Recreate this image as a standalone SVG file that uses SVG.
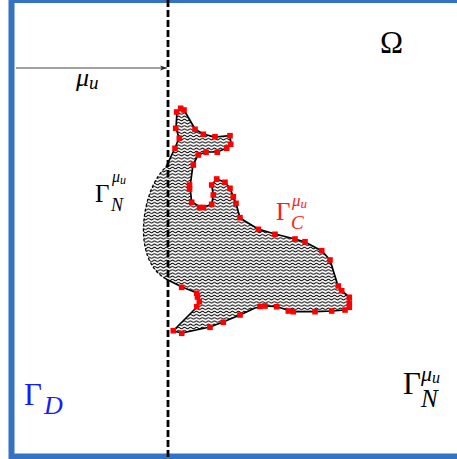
<svg xmlns="http://www.w3.org/2000/svg" width="457" height="459" viewBox="0 0 457 459">
<style>
.lbl{font-family:"Liberation Serif","DejaVu Serif",serif;fill:#000}
.it{font-style:italic}
.red{fill:#ff1a1a}
.blue{fill:#1a1aff}
.mk{fill:#ff0000}
</style>
<defs>
<pattern id="hatch" patternUnits="userSpaceOnUse" width="6" height="3.2">
<path d="M-3,1.6 q1.5,-1.4 3,0 t3,0 t3,0 t3,0" fill="none" stroke="#000" stroke-width="0.85"/>
</pattern>
<marker id="arr" markerWidth="8" markerHeight="6" refX="7" refY="3" orient="auto" markerUnits="userSpaceOnUse">
<path d="M0,0.5 L7,3 L0,5.5 L1.8,3 Z" fill="#222"/>
</marker>
<rect id="m" x="-2.8" y="-2.8" width="5.6" height="5.6" class="mk"/>
</defs>
<rect width="457" height="459" fill="#fff"/>
<g id="frame">
<rect x="11.5" y="0" width="460" height="456.5" fill="none" stroke="#3473c4" stroke-width="6"/>
</g>
<g id="interface">
<line x1="168" y1="0" x2="168" y2="459" stroke="#000" stroke-width="2.8" stroke-dasharray="7 3"/>
</g>
<g id="shape">
<path d="M166,167 L175,148 L179,138 L176,128 L177,112 L181,108 L184,110 L195,129 L203,134 L215,137 L230,135.7 L231,144 L227,148 L217,152 L206,152 L198,155 L193,165 L190,187 L191.7,202 L201.7,207.7 L211.7,204.3 L213.3,195 L211.7,185 L216.7,179 L225,182.3 L230,188.3 L233.3,196.7 L236,203.3 L240,218 L258,229 L275,234 L295,239 L305,242 L322,251 L330,260 L338,286 L342,291 L349,297 L349.5,307 L345,310 L332,311 L315,311.7 L293,311.7 L277,306.7 L265,306 L255,308 L240,315 L223,322 L210,327 L182,333 L173,331 L197,307 L199.5,302 L197,293 L182,287 L166,279 C150,270 143,250 143.5,228 C144,205 152,180 166,167 Z" fill="url(#hatch)" stroke="none"/>
<path d="M166,167 L175,148 L179,138 L176,128 L177,112 L181,108 L184,110 L195,129 L203,134 L215,137 L230,135.7 L231,144 L227,148 L217,152 L206,152 L198,155 L193,165 L190,187 L191.7,202 L201.7,207.7 L211.7,204.3 L213.3,195 L211.7,185 L216.7,179 L225,182.3 L230,188.3 L233.3,196.7 L236,203.3 L240,218 L258,229 L275,234 L295,239 L305,242 L322,251 L330,260 L338,286 L342,291 L349,297 L349.5,307 L345,310 L332,311 L315,311.7 L293,311.7 L277,306.7 L265,306 L255,308 L240,315 L223,322 L210,327 L182,333 L173,331 L197,307 L199.5,302 L197,293 L182,287 L166,279" fill="none" stroke="#000" stroke-width="1.7" stroke-linejoin="round"/>
<path d="M166,279 C150,270 143,250 143.5,228 C144,205 152,180 166,167" fill="none" stroke="#000" stroke-width="1.3" stroke-dasharray="3 2"/>
</g>
<g id="markers">
<use href="#m" x="176.7" y="112"/><use href="#m" x="180.7" y="108.3"/><use href="#m" x="184" y="110"/>
<use href="#m" x="175.7" y="128.3"/><use href="#m" x="179.3" y="138.3"/><use href="#m" x="175" y="148.3"/>
<use href="#m" x="195" y="129.3"/><use href="#m" x="203.3" y="134.3"/><use href="#m" x="215" y="136.7"/>
<use href="#m" x="230" y="135.7"/><use href="#m" x="230.7" y="144.3"/><use href="#m" x="226.7" y="148.3"/>
<use href="#m" x="217.3" y="152.3"/><use href="#m" x="206" y="152.3"/><use href="#m" x="198.3" y="155"/>
<use href="#m" x="193.3" y="165"/><use href="#m" x="189.5" y="185"/><use href="#m" x="189.5" y="189"/>
<use href="#m" x="191.7" y="202.3"/><use href="#m" x="199.5" y="207.5"/><use href="#m" x="203.5" y="207.5"/>
<use href="#m" x="211.7" y="204.3"/><use href="#m" x="213.3" y="195"/><use href="#m" x="211.7" y="185"/>
<use href="#m" x="216.7" y="179"/><use href="#m" x="225" y="182.3"/><use href="#m" x="230" y="188.3"/>
<use href="#m" x="233.3" y="196.7"/><use href="#m" x="236" y="203.3"/><use href="#m" x="240" y="217.7"/>
<use href="#m" x="258.3" y="229.3"/><use href="#m" x="275" y="234.3"/><use href="#m" x="295" y="239"/>
<use href="#m" x="305" y="241.7"/><use href="#m" x="321.7" y="250.7"/><use href="#m" x="330" y="260"/>
<use href="#m" x="338.3" y="286"/><use href="#m" x="341.7" y="290.7"/><use href="#m" x="349.3" y="297.3"/>
<use href="#m" x="349.3" y="303"/><use href="#m" x="349.3" y="307.3"/><use href="#m" x="345" y="310"/>
<use href="#m" x="331.7" y="311"/><use href="#m" x="315" y="311.7"/><use href="#m" x="293.3" y="311.7"/>
<use href="#m" x="288.3" y="311"/><use href="#m" x="276.7" y="306.7"/><use href="#m" x="265" y="306"/>
<use href="#m" x="260" y="306.5"/><use href="#m" x="240" y="315"/><use href="#m" x="223.3" y="322.3"/>
<use href="#m" x="210" y="327.3"/><use href="#m" x="181.7" y="333.3"/><use href="#m" x="173.3" y="330.7"/>
<use href="#m" x="196.7" y="306.7"/><use href="#m" x="199.3" y="301.7"/><use href="#m" x="197.5" y="297"/>
<use href="#m" x="196.7" y="293.3"/><use href="#m" x="181.7" y="287.3"/>
</g>
<g id="connectors">
<line x1="16" y1="68" x2="167" y2="68" stroke="#444" stroke-width="1" marker-end="url(#arr)"/>
</g>
<g id="label-mu">
<text class="lbl it" x="76" y="86" font-size="26">μ<tspan font-size="19" dy="3">u</tspan></text>
</g>
<g id="label-omega">
<text class="lbl" x="380" y="53" font-size="31">Ω</text>
</g>
<g id="label-gammaN-left">
<text class="lbl" x="95" y="202" font-size="25">Γ</text>
<text class="lbl it" x="112" y="182" font-size="16">μ<tspan font-size="12" dy="2">u</tspan></text>
<text class="lbl it" x="111" y="211" font-size="18">N</text>
</g>
<g id="label-gammaC">
<text class="lbl red" x="276" y="220" font-size="25">Γ</text>
<text class="lbl it red" x="292" y="206" font-size="17">μ<tspan font-size="13" dy="2">u</tspan></text>
<text class="lbl it red" x="291" y="229" font-size="19">C</text>
</g>
<g id="label-gammaD">
<text class="lbl blue" x="24" y="405" font-size="31">Γ</text>
<text class="lbl it blue" x="44" y="414" font-size="26">D</text>
</g>
<g id="label-gammaN-right">
<text class="lbl" x="403" y="394" font-size="31">Γ</text>
<text class="lbl it" x="421" y="381" font-size="22">μ<tspan font-size="16" dy="2">u</tspan></text>
<text class="lbl it" x="421" y="407" font-size="25">N</text>
</g>
</svg>
